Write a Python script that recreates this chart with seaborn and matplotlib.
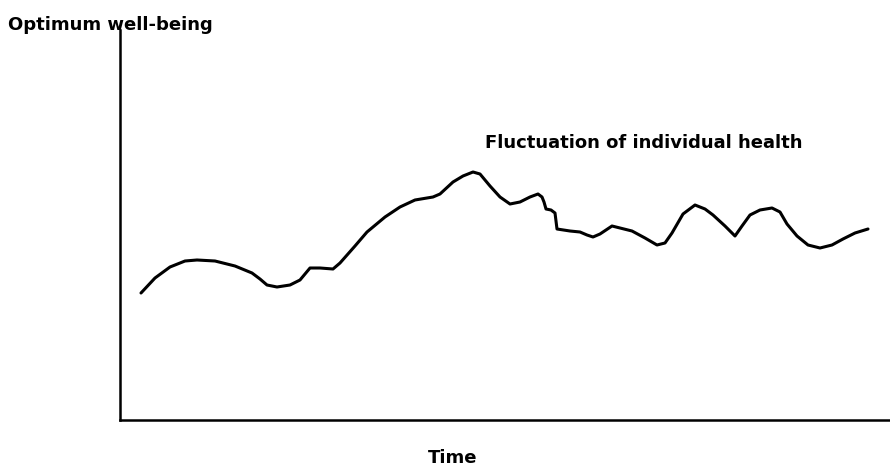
import pandas as pd
import matplotlib.pyplot as plt
import seaborn as sns

# valores (tiempo, bienestar) en unidades arbitrarias
tiempo = [21, 35, 50, 65, 77, 95, 115, 132, 140, 147, 157, 170, 180, 185, 190,
          200, 213, 220, 235, 247, 265, 280, 295, 313, 320, 333, 343, 353, 360,
          370, 380, 390, 400, 410, 418, 422, 424, 426, 431, 435, 437, 450, 460,
          467, 473, 480, 492, 500, 512, 525, 537, 545, 552, 563, 575, 585, 593,
          605, 615, 622, 630, 640, 652, 660, 667, 677, 688, 700, 712, 723, 735, 748]
bienestar = [127, 142, 153, 159, 160, 159, 154, 147, 141, 135, 133, 135, 140, 146, 152,
             152, 151, 157, 174, 188, 203, 213, 220, 223, 226, 238, 244, 248, 246,
             234, 223, 216, 218, 223, 226, 223, 218, 211, 210, 207, 191, 189, 188,
             185, 183, 186, 194, 192, 189, 182, 175, 177, 187, 206, 215, 211, 205,
             194, 184, 194, 205, 210, 212, 208, 196, 184, 175, 172, 175, 181, 187, 191]

df = pd.DataFrame({"tiempo": tiempo, "bienestar": bienestar})

sns.set_style("white")
fig = plt.figure(figsize=(8.9, 4.7), dpi=100)
ax = fig.add_axes([120 / 890, 50 / 470, 770 / 890, 390 / 470])

sns.lineplot(data=df, x="tiempo", y="bienestar", color="black", linewidth=2.2,
             solid_joinstyle="round", solid_capstyle="round", ax=ax)

ax.set_xlim(0, 770)
ax.set_ylim(0, 390)
ax.set_xticks([])
ax.set_yticks([])
ax.set_xlabel("")
ax.set_ylabel("")
sns.despine(ax=ax)
for lado in ["left", "bottom"]:
    ax.spines[lado].set_linewidth(1.8)
    ax.spines[lado].set_color("black")

fuente = dict(fontsize=13, fontweight="bold", color="black", family="DejaVu Sans")
ax.text(-112, 395, "Optimum well-being", ha="left", va="center", clip_on=False, **fuente)
ax.text(365, 277, "Fluctuation of individual health", ha="left", va="center", **fuente)
ax.text(333, -38, "Time", ha="center", va="center", clip_on=False, **fuente)

plt.savefig("out.png", dpi=100)
